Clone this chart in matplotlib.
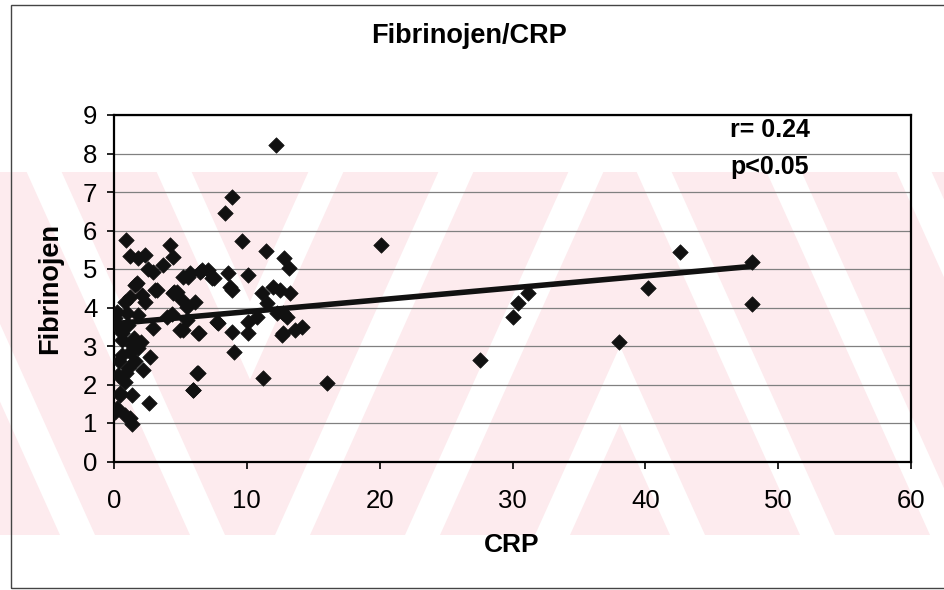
import matplotlib
matplotlib.use("Agg")
import matplotlib.pyplot as plt
from matplotlib.patches import Polygon, Rectangle
import numpy as np

plt.rcParams['font.family'] = ['Liberation Sans', 'DejaVu Sans']

# ---- data ----
crp = [
    0.88, 1.2, 2.33, 4.2, 4.47, 1.83, 2.58, 2.96, 3.71, 1.71, 3.21, 1.2, 2.08, 2.33, 0.83,
    4.47, 5.1, 6.1, 5.6, 6.48, 7.1, 0.2, 0.95, 1.83, 4.34, 1.58, 3.09, 4.72, 3.97, 5.47, 7.73,
    0.08, 1.08, 2.96, 4.97, 6.35, 0.58, 1.33, 1.83, 2.71, 0.58, 1.08, 2.21, 0.32, 6.23, 5.97,
    0.83, 0.45, 1.39, 2.6, 0.26, 0.83, 1.39, 1.2, 0.08, 0.3, 0.6, 1.5, 2.0, 1.2, 0.4, 1.6, 0.9,
    12.17, 8.86, 8.36, 9.61, 11.45, 12.8, 13.2, 8.61, 10.07, 7.36, 6.6, 5.72, 5.22, 8.86, 11.12,
    12.0, 12.5, 13.25, 11.5, 5.47, 7.86, 10.11, 10.74, 12.25, 13.0, 5.22, 6.4, 8.86, 10.11,
    12.63, 13.63, 14.13, 9.06, 6.3, 5.97, 11.24, 16.0, 8.73, 12.75, 12.75, 7.5, 4.55, 0.48,
    20.1, 42.6, 48.0, 48.0, 40.2, 31.15, 30.45, 30.07, 37.98, 27.56,
]
fibrinojen = [
    5.75, 5.35, 5.36, 5.62, 5.32, 5.28, 5.0, 4.93, 5.10, 4.63, 4.45, 4.28, 4.32, 4.15, 4.15,
    4.37, 4.19, 4.15, 4.80, 4.93, 4.97, 3.89, 3.85, 3.81, 3.82, 4.58, 4.45, 4.41, 3.75, 3.68, 3.63,
    3.72, 3.55, 3.46, 3.42, 3.33, 3.16, 3.03, 2.94, 2.72, 2.77, 2.42, 2.38, 2.25, 2.29, 1.87,
    2.07, 1.77, 1.73, 1.51, 1.38, 1.21, 0.97, 1.12, 1.29, 3.50, 3.35, 3.20, 3.10, 2.85, 2.60, 2.60, 2.30,
    8.22, 6.88, 6.45, 5.74, 5.48, 5.28, 5.02, 4.89, 4.84, 4.76, 4.97, 4.89, 4.80, 4.45, 4.37,
    4.54, 4.45, 4.37, 4.11, 4.02, 3.61, 3.63, 3.76, 3.85, 3.76, 3.42, 3.33, 3.37, 3.33,
    3.29, 3.42, 3.50, 2.85, 2.29, 1.86, 2.16, 2.03, 4.54, 3.85, 3.33, 4.76, 4.41, 1.73,
    5.62, 5.45, 5.19, 4.09, 4.50, 4.37, 4.11, 3.76, 3.11, 2.64,
]
trend_x = [0.2, 48.0]
trend_intercept = 3.58
trend_slope = 0.0310

x_ticks = [0, 10, 20, 30, 40, 50, 60]
y_ticks = [0, 1, 2, 3, 4, 5, 6, 7, 8, 9]
title = "Fibrinojen/CRP"
x_label = "CRP"
y_label = "Fibrinojen"
stats_text = ["r= 0.24", "p<0.05"]

# ---- figure ----
W, H = 944, 590
fig = plt.figure(figsize=(W / 100, H / 100), dpi=100)
fig.patch.set_facecolor('white')


def fig_xy(x, y):
    return (x / W, 1 - y / H)


# faint watermark stripes (figure pixel coords, y downward)
pink = '#fdebee'
wy0, wy1 = 172, 535
shift = 0.45 * (wy1 - wy0)
band = 95
period = 130
x_v, x_a = 250, 620   # fold lines of the zig-zag stripe pattern


def clip_rect(xa, xb):
    return Rectangle(fig_xy(xa, wy1), (xb - xa) / W, (wy1 - wy0) / H,
                     transform=fig.transFigure)


regions = [(0, x_v, lambda x: 2 * x_v - x),
           (x_v, x_a, lambda x: x),
           (x_a, W, lambda x: 2 * x_a - x)]
for xa, xb_, fx in regions:
    clip = clip_rect(xa, xb_)
    for xb in range(440 - 130 * 8, 440 + 130 * 8, period):
        pts = [(xb, wy1), (xb + band, wy1), (xb + band + shift, wy0), (xb + shift, wy0)]
        pts = [(fx(x), y) for x, y in pts]
        p = Polygon([fig_xy(*q) for q in pts], closed=True, transform=fig.transFigure,
                    facecolor=pink, edgecolor='none', zorder=0)
        p.set_clip_path(clip)
        fig.patches.append(p)

# outer chart border
fig.patches.append(Rectangle(fig_xy(11, 588), 1.0, (588 - 5) / H,
                             transform=fig.transFigure, fill=False,
                             edgecolor='#444444', linewidth=1.0, zorder=1))

ax = fig.add_axes([114 / W, 1 - 461.5 / H, (911 - 114) / W, (461.5 - 115) / H])
ax.set_facecolor('none')
ax.set_zorder(2)

ax.set_xlim(0, 60)
ax.set_ylim(0, 9)
ax.set_xticks(x_ticks)
ax.set_yticks(y_ticks)
ax.set_xticklabels([str(v) for v in x_ticks])
ax.set_yticklabels([str(v) for v in y_ticks])
ax.tick_params(axis='both', direction='out', length=5, width=1.2, color='black',
               labelsize=18.5)
ax.tick_params(axis='x', pad=15)
ax.tick_params(axis='y', pad=7)
for s in ax.spines.values():
    s.set_color('black')
    s.set_linewidth(1.6)

ax.yaxis.grid(True, color='#808080', linewidth=0.9)
ax.xaxis.grid(False)
ax.set_axisbelow(True)

ax.scatter(crp, fibrinojen, marker='D', s=62, color='#111111',
           edgecolors='#111111', linewidths=0.5, zorder=3)

tx = np.array(trend_x)
ax.plot(tx, trend_intercept + trend_slope * tx, color='#111111', linewidth=4.0,
        solid_capstyle='butt', zorder=4)

ax.text(46.4, 8.6, stats_text[0], fontsize=18, fontweight='bold', va='center',
        ha='left', zorder=5)
ax.text(46.4, 7.65, stats_text[1], fontsize=18, fontweight='bold', va='center',
        ha='left', zorder=5)

fig.text(469 / W, 1 - 36 / H, title, fontsize=19.5, fontweight='bold',
         ha='center', va='center')
fig.text(512 / W, 1 - 545 / H, x_label, fontsize=19, fontweight='bold',
         ha='center', va='center')
fig.text(50 / W, 1 - 288 / H, y_label, fontsize=19.5, fontweight='bold',
         ha='center', va='center', rotation=90)

fig.savefig('out.png', dpi=100)
